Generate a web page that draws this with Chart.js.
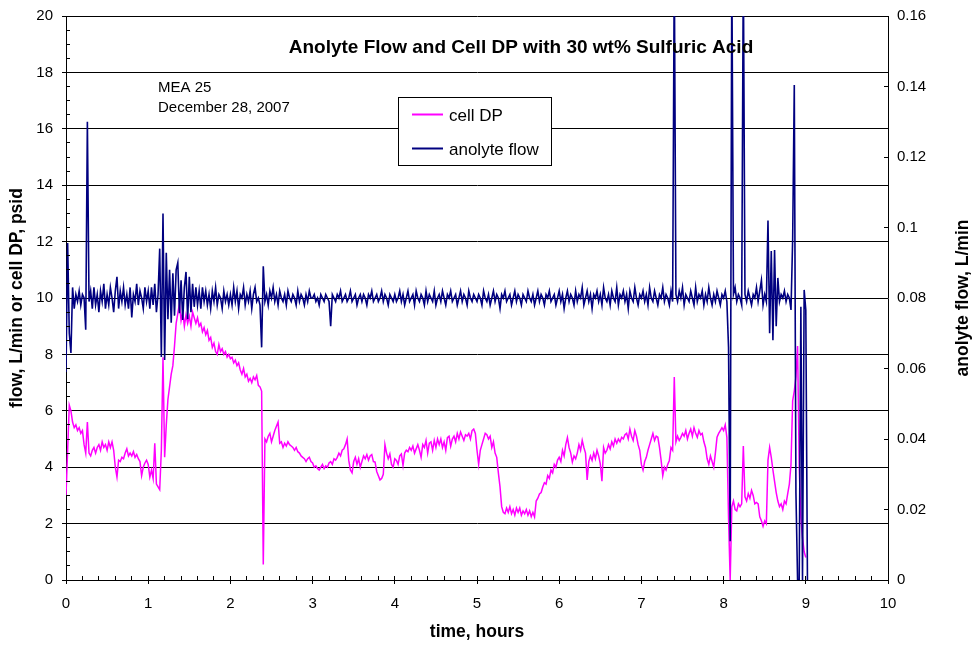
<!DOCTYPE html>
<html>
<head>
<meta charset="utf-8">
<title>Anolyte Flow and Cell DP</title>
<script src="https://cdn.jsdelivr.net/npm/chart.js@4.4.1/dist/chart.umd.min.js"></script>
<style>
  html, body { margin: 0; padding: 0; background: #fff; }
  #wrap { width: 974px; height: 646px; }
</style>
</head>
<body>
<div id="wrap"><canvas id="dpChart" width="974" height="646"></canvas></div>
<script>
// logged every 0.02 h, first sample at t = 0
const sampleStep = 0.02;

// cell DP, psid (left axis)
const cellDP = [
  3.0, 4.6, 6.2, 6.0, 5.6, 5.4, 5.5, 5.3, 5.4, 5.2,
  5.3, 4.8, 4.5, 5.6, 4.5, 4.4, 4.6, 4.7, 4.5, 4.7,
  4.8, 4.6, 4.9, 4.7, 4.8, 4.6, 4.9, 4.7, 4.9, 4.6,
  4.0, 3.65, 4.25, 4.2, 4.35, 4.3, 4.5, 4.65, 4.4, 4.5,
  4.4, 4.55, 4.35, 4.45, 4.3, 4.2, 3.7, 4.0, 4.15, 4.25,
  // hour 1
  4.1, 3.65, 3.9, 3.6, 4.85, 3.4, 3.3, 3.2, 4.6, 7.9,
  4.35, 5.5, 6.4, 6.85, 7.3, 7.6, 8.3, 9.1, 9.45, 9.8,
  9.2, 9.5, 9.0, 9.4, 9.1, 9.35, 9.0, 9.5, 9.3, 9.1,
  9.3, 9.0, 9.1, 8.8, 8.95, 8.7, 8.85, 8.5, 8.6, 8.25,
  8.4, 8.1, 8.0, 8.35, 8.1, 8.2, 8.0, 8.1, 7.9, 8.0,
  // hour 2
  7.85, 7.9, 7.7, 7.8, 7.6, 7.7, 7.45, 7.3, 7.5, 7.2,
  7.3, 7.05, 7.15, 7.0, 7.2, 7.1, 7.25, 6.9, 6.85, 6.7,
  0.55, 5.0, 4.9, 5.1, 5.2, 4.9, 5.1, 5.3, 5.45, 5.6,
  4.85, 4.9, 4.7, 4.85, 4.75, 4.9, 4.8, 4.75, 4.7, 4.6,
  4.7, 4.55, 4.5, 4.4, 4.35, 4.3, 4.2, 4.3, 4.35, 4.2,
  // hour 3
  4.15, 4.0, 4.05, 3.95, 3.9, 4.0, 4.1, 3.95, 4.05, 4.0,
  4.15, 4.2, 4.1, 4.3, 4.25, 4.35, 4.5, 4.4, 4.6, 4.65,
  4.8, 5.0, 4.24, 3.9, 3.8, 4.2, 4.35, 4.1, 4.3, 4.0,
  4.2, 4.4, 4.3, 4.45, 4.25, 4.4, 4.45, 4.2, 4.18, 3.85,
  3.7, 3.55, 3.6, 3.75, 4.8, 4.5, 4.3, 4.47, 4.1, 4.0,
  // hour 4
  4.3, 4.24, 4.1, 4.4, 4.47, 4.06, 4.5, 4.6, 4.55, 4.7,
  4.6, 4.75, 4.5, 4.65, 4.8, 4.6, 4.35, 4.8, 4.7, 4.95,
  4.5, 4.85, 4.9, 4.6, 4.95, 4.7, 5.0, 4.8, 5.0, 4.7,
  4.9, 4.6, 5.05, 5.1, 4.75, 5.0, 5.1, 4.9, 5.2, 5.0,
  5.25, 5.1, 4.95, 5.15, 5.1, 5.2, 5.0, 5.3, 5.35, 5.2,
  // hour 5
  4.6, 4.1, 4.6, 4.8, 5.0, 5.2, 5.15, 5.0, 5.1, 4.7,
  4.9, 4.5, 4.35, 3.8, 3.3, 2.6, 2.4, 2.35, 2.55, 2.4,
  2.6, 2.35, 2.5, 2.3, 2.55, 2.4, 2.55, 2.3, 2.45, 2.35,
  2.5, 2.3, 2.45, 2.25, 2.4, 2.24, 2.8, 2.9, 3.05, 3.1,
  3.3, 3.45, 3.4, 3.7, 3.6, 3.9, 3.8, 4.1, 4.0, 4.25,
  // hour 6
  4.35, 4.2, 4.6, 4.4, 4.8, 5.05, 4.7, 4.5, 4.18, 4.4,
  4.3, 4.5, 4.8, 4.6, 4.95, 4.7, 4.5, 3.55, 4.2, 4.4,
  4.24, 4.5, 4.3, 4.6, 4.4, 4.12, 3.5, 4.7, 4.5, 4.6,
  4.8, 4.65, 4.9, 4.75, 5.0, 4.85, 5.0, 4.9, 5.06, 5.0,
  5.15, 5.2, 5.0, 5.35, 5.1, 4.95, 5.3, 5.1, 4.8, 4.6,
  // hour 7
  4.1, 3.9, 4.2, 4.35, 4.6, 4.8, 5.0, 5.2, 4.95, 5.1,
  5.06, 4.7, 4.24, 3.7, 4.0, 3.9, 4.1, 4.24, 4.7, 4.6,
  7.2, 4.9, 5.1, 4.95, 5.06, 5.2, 5.1, 5.3, 5.0, 5.2,
  5.35, 5.1, 5.4, 5.2, 5.06, 5.3, 5.15, 5.2, 4.9, 4.7,
  4.3, 4.1, 4.4, 4.2, 4.0, 4.5, 5.06, 5.2, 5.3, 5.4,
  // hour 8
  5.3, 5.5, 5.06, 2.2, 0.0, 2.6, 2.8, 2.5, 2.45, 2.7,
  2.6, 2.7, 4.75, 2.95, 2.8, 3.06, 2.9, 3.18, 3.0, 2.7,
  2.75, 2.7, 2.24, 2.1, 1.9, 2.1, 2.0, 4.25, 4.7, 4.35,
  3.9, 3.5, 3.1, 2.8, 2.6, 2.7, 2.5, 2.8, 2.7, 3.06,
  3.4, 4.1, 6.35, 6.7, 7.2, 8.3, 4.0, 2.2, 1.5, 1.0,
  0.8
];

// anolyte flow, L/min (right axis)
const anolyteFlow = [
  0.059, 0.0956, 0.070, 0.0644, 0.083, 0.077, 0.081, 0.079, 0.082, 0.078,
  0.081, 0.080, 0.071, 0.130, 0.079, 0.082, 0.077, 0.083, 0.078, 0.081,
  0.076, 0.082, 0.079, 0.084, 0.077, 0.081, 0.078, 0.083, 0.080, 0.076,
  0.082, 0.086, 0.077, 0.082, 0.079, 0.083, 0.078, 0.081, 0.077, 0.083,
  0.0745, 0.081, 0.079, 0.084, 0.078, 0.082, 0.080, 0.077, 0.083, 0.079,
  // hour 1
  0.082, 0.077, 0.083, 0.078, 0.084, 0.076, 0.081, 0.094, 0.0633, 0.104,
  0.0624, 0.0928, 0.074, 0.088, 0.073, 0.087, 0.075, 0.088, 0.090, 0.0757,
  0.085, 0.0738, 0.083, 0.0874, 0.074, 0.086, 0.076, 0.084, 0.0775, 0.083,
  0.078, 0.082, 0.077, 0.083, 0.079, 0.082, 0.078, 0.081, 0.077, 0.082,
  0.079, 0.083, 0.078, 0.081, 0.080, 0.077, 0.082, 0.079, 0.081, 0.078,
  // hour 2
  0.081, 0.078, 0.083, 0.079, 0.082, 0.077, 0.081, 0.080, 0.083, 0.078,
  0.081, 0.079, 0.082, 0.077, 0.081, 0.083, 0.079, 0.080, 0.078, 0.066,
  0.089, 0.079, 0.081, 0.078, 0.082, 0.080, 0.083, 0.079, 0.081, 0.078,
  0.082, 0.080, 0.079, 0.081, 0.078, 0.082, 0.080, 0.079, 0.081, 0.080,
  0.078, 0.082, 0.079, 0.081, 0.080, 0.078, 0.081, 0.079, 0.082, 0.080,
  // hour 3
  0.080, 0.081, 0.079, 0.080, 0.078, 0.081, 0.080, 0.079, 0.081, 0.080,
  0.079, 0.072, 0.081, 0.080, 0.079, 0.081, 0.080, 0.082, 0.079, 0.080,
  0.081, 0.079, 0.080, 0.082, 0.079, 0.080, 0.081, 0.078, 0.080, 0.081,
  0.079, 0.081, 0.080, 0.078, 0.081, 0.080, 0.082, 0.079, 0.080, 0.081,
  0.079, 0.080, 0.082, 0.079, 0.081, 0.080, 0.078, 0.081, 0.080, 0.079,
  // hour 4
  0.081, 0.079, 0.080, 0.082, 0.079, 0.081, 0.078, 0.080, 0.082, 0.079,
  0.080, 0.081, 0.078, 0.082, 0.080, 0.079, 0.081, 0.080, 0.078, 0.082,
  0.079, 0.081, 0.080, 0.079, 0.082, 0.078, 0.080, 0.081, 0.079, 0.082,
  0.080, 0.078, 0.081, 0.080, 0.082, 0.079, 0.080, 0.081, 0.078, 0.080,
  0.082, 0.079, 0.081, 0.080, 0.078, 0.082, 0.080, 0.079, 0.081, 0.080,
  // hour 5
  0.079, 0.081, 0.080, 0.078, 0.082, 0.080, 0.079, 0.081, 0.078, 0.080,
  0.082, 0.079, 0.081, 0.080, 0.077, 0.081, 0.080, 0.082, 0.079, 0.080,
  0.081, 0.078, 0.080, 0.082, 0.079, 0.081, 0.080, 0.078, 0.081, 0.080,
  0.079, 0.082, 0.080, 0.079, 0.081, 0.078, 0.080, 0.082, 0.079, 0.081,
  0.080, 0.078, 0.081, 0.080, 0.082, 0.079, 0.080, 0.081, 0.078, 0.080,
  // hour 6
  0.082, 0.079, 0.081, 0.077, 0.080, 0.082, 0.079, 0.081, 0.080, 0.078,
  0.082, 0.079, 0.081, 0.080, 0.083, 0.078, 0.080, 0.082, 0.079, 0.081,
  0.077, 0.081, 0.080, 0.082, 0.079, 0.081, 0.078, 0.083, 0.080, 0.079,
  0.081, 0.078, 0.082, 0.080, 0.079, 0.083, 0.078, 0.081, 0.080, 0.082,
  0.079, 0.081, 0.077, 0.082, 0.080, 0.079, 0.083, 0.080, 0.078, 0.081,
  // hour 7
  0.080, 0.082, 0.079, 0.081, 0.078, 0.083, 0.080, 0.079, 0.082, 0.080,
  0.078, 0.081, 0.080, 0.083, 0.079, 0.081, 0.080, 0.078, 0.082, 0.079,
  0.175, 0.081, 0.079, 0.082, 0.080, 0.083, 0.078, 0.081, 0.080, 0.079,
  0.082, 0.080, 0.078, 0.083, 0.079, 0.081, 0.080, 0.082, 0.078, 0.081,
  0.079, 0.083, 0.080, 0.078, 0.081, 0.079, 0.082, 0.080, 0.078, 0.081,
  // hour 8
  0.080, 0.082, 0.079, 0.066, 0.011, 0.175, 0.081, 0.083, 0.079, 0.081,
  0.080, 0.078, 0.175, 0.081, 0.079, 0.082, 0.080, 0.078, 0.081, 0.080,
  0.083, 0.079, 0.082, 0.085, 0.078, 0.081, 0.079, 0.102, 0.070, 0.0933,
  0.068, 0.0936, 0.072, 0.0857, 0.079, 0.081, 0.080, 0.082, 0.079, 0.081,
  0.080, 0.0766, 0.0965, 0.1404, 0.0247, 0.0, 0.0, 0.0775, 0.0, 0.0823,
  0.0766, 0.0
];

// axis ranges and tick steps
const hoursMax = 10, hoursStep = 1, hoursMinor = 0.2;
const leftMax = 20, leftStep = 2, leftMinor = 0.5;
const rightMax = 0.16, rightStep = 0.02;

const FONT = '"Liberation Sans", Arial, Helvetica, sans-serif';

function toPoints(values) {
  return values.map((v, i) => ({ x: i * sampleStep, y: v }));
}

function align(px) {
  return Math.round(px - 0.5) + 0.5;
}

// inside tick marks, in-plot title, notes and the boxed legend
const decorPlugin = {
  id: 'decor',
  afterDraw(chart) {
    const ctx = chart.ctx;
    const a = chart.chartArea;
    const sx = chart.scales.x, sy = chart.scales.y, sy2 = chart.scales.y2;
    ctx.save();
    ctx.strokeStyle = '#000';
    ctx.lineWidth = 1;
    ctx.beginPath();
    for (let i = 0; i <= Math.round(leftMax / leftMinor); i++) {
      const v = i * leftMinor;
      const py = align(sy.getPixelForValue(v));
      if (i % Math.round(leftStep / leftMinor) === 0) {
        ctx.moveTo(a.left - 4, py); ctx.lineTo(a.left, py);
      } else {
        ctx.moveTo(a.left, py); ctx.lineTo(a.left + 4, py);
      }
    }
    for (let i = 0; i <= Math.round(rightMax / rightStep); i++) {
      const py = align(sy2.getPixelForValue(i * rightStep));
      ctx.moveTo(a.right - 4, py); ctx.lineTo(a.right, py);
    }
    for (let i = 0; i <= Math.round(hoursMax / hoursMinor); i++) {
      const px = align(sx.getPixelForValue(i * hoursMinor));
      const major = i % Math.round(hoursStep / hoursMinor) === 0;
      ctx.moveTo(px, a.bottom - 4); ctx.lineTo(px, major ? a.bottom + 4 : a.bottom);
    }
    ctx.stroke();

    ctx.fillStyle = '#000';
    ctx.textBaseline = 'middle';
    ctx.textAlign = 'center';
    ctx.font = 'bold 19px ' + FONT;
    ctx.fillText('Anolyte Flow and Cell DP with 30 wt% Sulfuric Acid', 521, 48);

    ctx.textAlign = 'left';
    ctx.font = '15px ' + FONT;
    ctx.fillText('MEA 25', 158, 88);
    ctx.fillText('December 28, 2007', 158, 108);

    // axis titles
    ctx.font = 'bold 17.5px ' + FONT;
    ctx.textAlign = 'center';
    ctx.save();
    ctx.translate(17, (a.top + a.bottom) / 2);
    ctx.rotate(-Math.PI / 2);
    ctx.fillText('flow, L/min or cell DP, psid', 0, 0);
    ctx.restore();
    ctx.save();
    ctx.translate(963, (a.top + a.bottom) / 2);
    ctx.rotate(-Math.PI / 2);
    ctx.fillText('anolyte flow, L/min', 0, 0);
    ctx.restore();

    // legend box
    const lx = 398.5, ly = 97.5, lw = 153, lh = 68;
    ctx.fillStyle = '#fff';
    ctx.fillRect(lx, ly, lw, lh);
    ctx.strokeRect(lx, ly, lw, lh);
    ctx.font = '17px ' + FONT;
    ctx.textAlign = 'left';
    chart.data.datasets.forEach((ds, i) => {
      const yy = 114.5 + i * 34;
      ctx.strokeStyle = ds.borderColor;
      ctx.lineWidth = 2;
      ctx.beginPath();
      ctx.moveTo(412, yy); ctx.lineTo(443, yy);
      ctx.stroke();
      ctx.fillStyle = '#000';
      ctx.fillText(ds.label, 449, yy + 1.5);
    });
    ctx.restore();
  }
};

Chart.defaults.color = '#000';
Chart.defaults.font.family = FONT;

new Chart(document.getElementById('dpChart'), {
  type: 'line',
  data: {
    datasets: [
      {
        label: 'cell DP',
        data: toPoints(cellDP),
        yAxisID: 'y',
        borderColor: '#ff00ff',
        borderWidth: 1.5,
        pointRadius: 0,
        tension: 0,
        order: 1
      },
      {
        label: 'anolyte flow',
        data: toPoints(anolyteFlow),
        yAxisID: 'y2',
        borderColor: '#000080',
        borderWidth: 1.6,
        pointRadius: 0,
        tension: 0,
        order: 0
      }
    ]
  },
  options: {
    responsive: false,
    animation: false,
    devicePixelRatio: 1,
    layout: { padding: { top: 16, left: 0, right: 0, bottom: 0 } },
    plugins: {
      legend: { display: false },
      tooltip: { enabled: false }
    },
    scales: {
      x: {
        type: 'linear',
        min: 0,
        max: hoursMax,
        ticks: { stepSize: hoursStep, padding: 7, font: { size: 15 } },
        grid: { display: false },
        border: { color: '#000', width: 1 },
        title: { display: true, text: 'time, hours', font: { size: 17.5, weight: 'bold' }, padding: { top: 0, bottom: 3 } },
        afterFit: (s) => { s.height = 66; }
      },
      y: {
        position: 'left',
        min: 0,
        max: leftMax,
        ticks: { stepSize: leftStep, padding: 0, font: { size: 15 } },
        grid: { color: '#000', lineWidth: 1, drawTicks: true, tickLength: 13, tickColor: 'transparent' },
        border: { color: '#000', width: 1 },
        afterFit: (s) => { s.width = 66; }
      },
      y2: {
        position: 'right',
        min: 0,
        max: rightMax,
        ticks: {
          stepSize: rightStep,
          padding: 0,
          font: { size: 15 },
          callback: (v) => String(Number(v.toFixed(2)))
        },
        grid: { drawOnChartArea: false, drawTicks: true, tickLength: 9, tickColor: 'transparent', color: 'transparent' },
        border: { color: '#000', width: 1 },
        afterFit: (s) => { s.width = 86; }
      }
    }
  },
  plugins: [decorPlugin]
});
</script>
</body>
</html>
